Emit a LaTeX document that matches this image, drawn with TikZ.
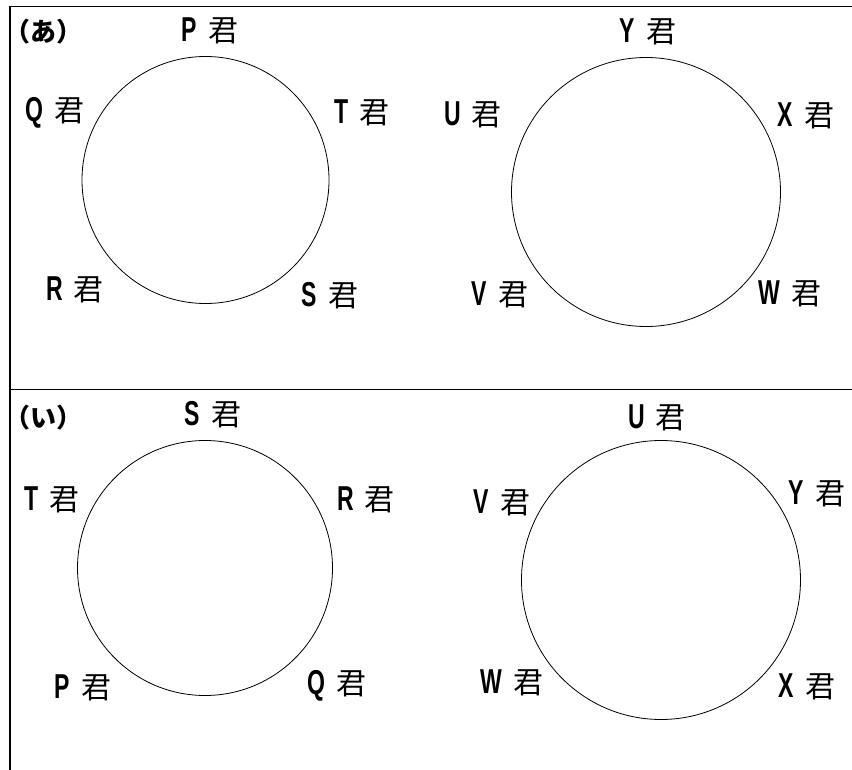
\documentclass[tikz,border=0pt]{standalone}
\usepackage{fontspec}
\setmainfont{Noto Sans CJK JP}
\newfontfamily\jpfont{Noto Sans CJK JP}
\newfontfamily\latinfont{Liberation Sans}
% a name followed by the honorific, Latin letter drawn tall
\newcommand{\kun}[1]{{\latinfont\bfseries\fontsize{32}{34}\selectfont\scalebox{0.72}[1.08]{#1}}\hspace{11pt}君}
\begin{document}
\begin{tikzpicture}[x=1pt,y=-1pt,
  frameline/.style={line width=1.8pt,black},
  ring/.style={circle,draw,line width=0.8pt,inner sep=0pt},
  seatname/.style={font=\jpfont\fontsize{30}{32}\selectfont,inner sep=0pt,anchor=center},
  partlabel/.style={font=\jpfont\bfseries\fontsize{26}{28}\selectfont,inner sep=0pt,anchor=west}]
\useasboundingbox (0,0) rectangle (852,770);
\fill[white] (0,0) rectangle (852,770);

% frame: left edge, top edge and the divider between the two parts
\draw[frameline] (10,770) -- (10,6.5) -- (852,6.5);
\draw[frameline] (10,389.5) -- (852,389.5);

% part labels
\node[partlabel] (lblA) at (4,32) {（あ）};
\node[partlabel] (lblB) at (4,418) {（い）};

% circles
\node[ring,minimum size=247pt] (c1) at (205.5,180) {};
\node[ring,minimum size=269pt] (c2) at (646,192) {};
\node[ring,minimum size=255pt] (c3) at (205,568) {};
\node[ring,minimum size=279pt] (c4) at (661,580) {};

% seating of part one
\node[seatname] (a1P) at (210,31) {\kun{P}};
\node[seatname] (a1Q) at (55,113) {\kun{Q}};
\node[seatname] (a1T) at (362,113) {\kun{T}};
\node[seatname] (a1R) at (75,290) {\kun{R}};
\node[seatname] (a1S) at (330,296) {\kun{S}};

\node[seatname] (a2Y) at (648,32) {\kun{Y}};
\node[seatname] (a2U) at (473,115) {\kun{U}};
\node[seatname] (a2X) at (806,116) {\kun{X}};
\node[seatname] (a2V) at (500,295) {\kun{V}};
\node[seatname] (a2W) at (790,294) {\kun{W}};

% seating of part two
\node[seatname] (b1S) at (213,415) {\kun{S}};
\node[seatname] (b1T) at (52,500) {\kun{T}};
\node[seatname] (b1R) at (366,500) {\kun{R}};
\node[seatname] (b1P) at (83,688) {\kun{P}};
\node[seatname] (b1Q) at (337,686) {\kun{Q}};

\node[seatname] (b2U) at (657,418) {\kun{U}};
\node[seatname] (b2V) at (502,503) {\kun{V}};
\node[seatname] (b2Y) at (817,494) {\kun{Y}};
\node[seatname] (b2W) at (512,683) {\kun{W}};
\node[seatname] (b2X) at (807,687) {\kun{X}};
\end{tikzpicture}
\end{document}
